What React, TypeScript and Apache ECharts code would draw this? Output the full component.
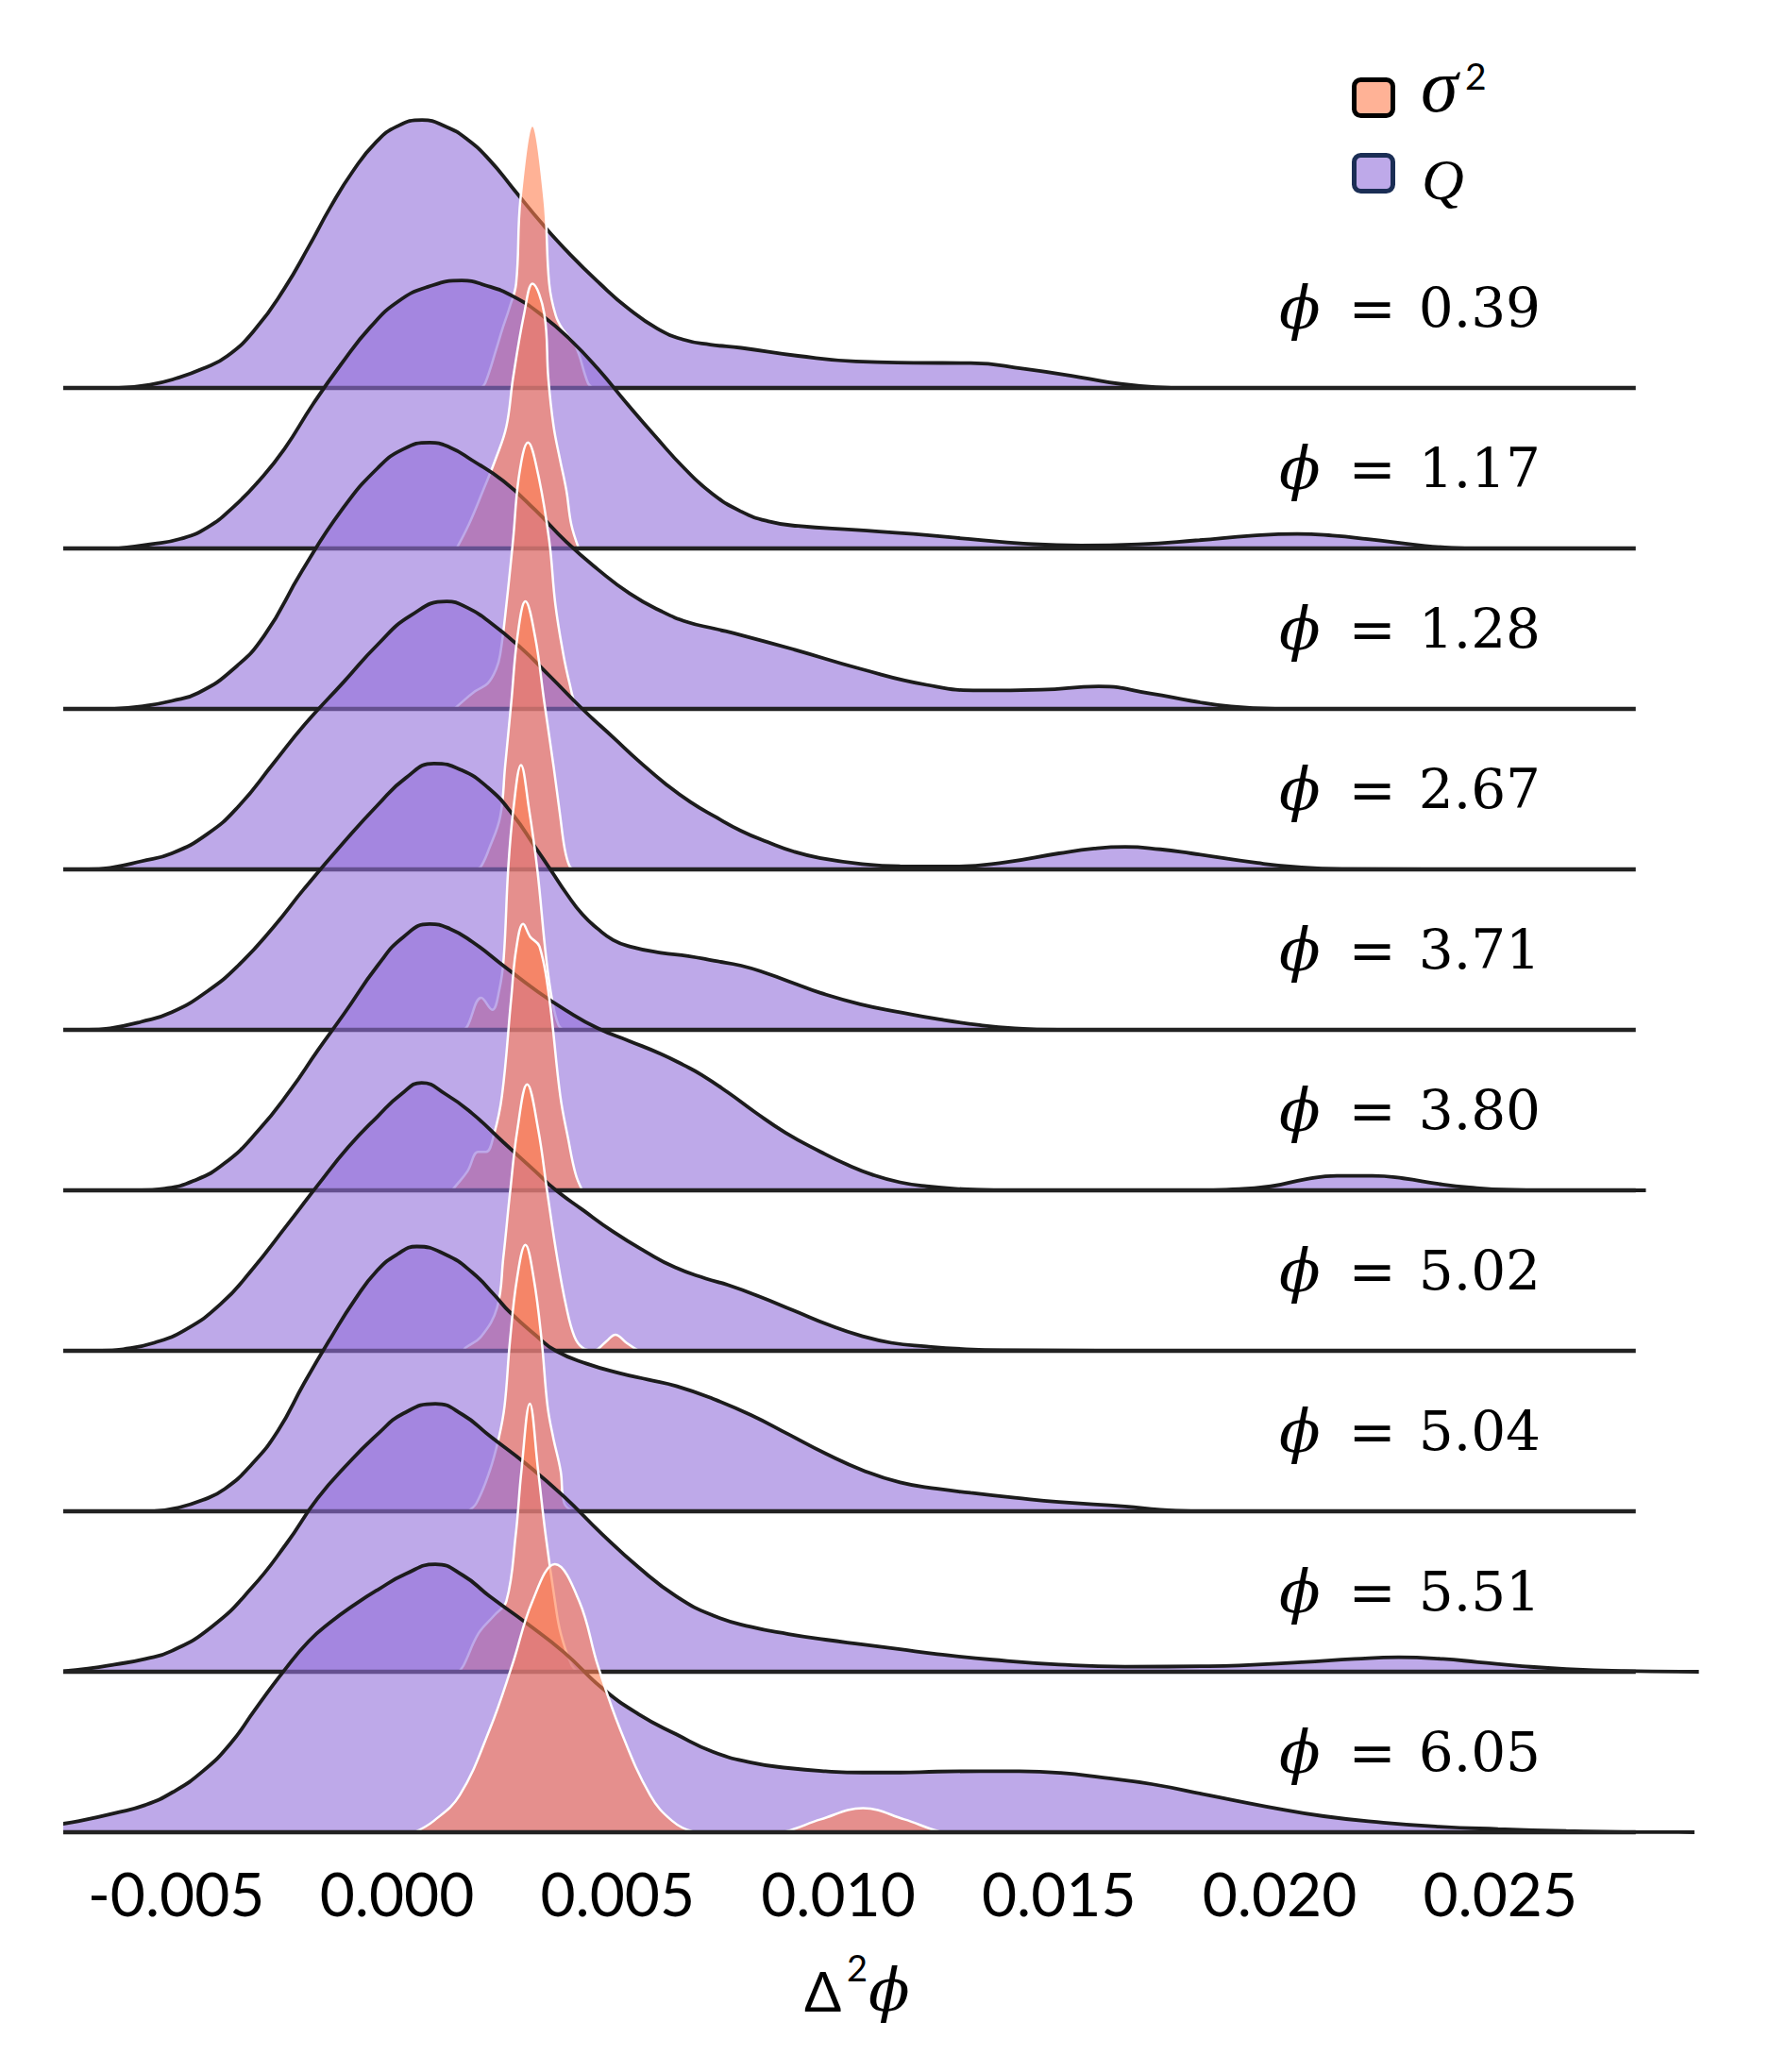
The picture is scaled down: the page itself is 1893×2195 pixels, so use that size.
import React, { useEffect, useRef } from "react";
import * as echarts from "echarts";

// ---------- data ----------
const PHI_LABELS = ["0.39", "1.17", "1.28", "2.67", "3.71", "3.80", "5.02", "5.04", "5.51", "6.05"];
const X_TICKS = [-0.005, 0, 0.005, 0.01, 0.015, 0.02, 0.025];
const AXIS_LINE_X = [-7.71, 28.07]; // extent of each ridge baseline, x in 1e-3

// Q densities: [x (1e-3), height in ridge-spacing units]
const Q_039 = [[-6.3,0],[-5.6,0.02],[-5.0,0.06],[-4.4,0.12],[-3.84,0.2],[-3.2,0.37],[-2.55,0.62],[-2.0,0.88],[-1.5,1.13],[-1.0,1.35],[-0.48,1.53],[0.0,1.63],[0.57,1.67],[1.1,1.63],[1.59,1.55],[2.1,1.42],[2.64,1.24],[3.3,1.02],[3.93,0.83],[4.6,0.65],[5.22,0.5],[5.9,0.37],[6.51,0.3],[7.1,0.27],[7.8,0.25],[9.09,0.2],[10.4,0.165],[11.7,0.157],[13.0,0.155],[14.2,0.12],[15.5,0.066],[16.4,0.025],[17.2,0.005],[17.9,0]];
const Q_117 = [[-6.3,0],[-5.6,0.025],[-4.9,0.06],[-4.3,0.13],[-3.7,0.26],[-3.1,0.43],[-2.55,0.62],[-1.9,0.9],[-1.26,1.15],[-0.6,1.38],[0.03,1.54],[0.7,1.63],[1.47,1.67],[2.0,1.64],[2.64,1.57],[3.3,1.45],[3.93,1.3],[4.55,1.12],[5.22,0.9],[5.85,0.7],[6.51,0.5],[7.15,0.34],[7.8,0.23],[8.4,0.17],[9.09,0.14],[10.4,0.115],[11.7,0.09],[13.0,0.058],[14.2,0.03],[15.5,0.018],[16.8,0.026],[18.1,0.05],[19.4,0.08],[20.4,0.09],[21.2,0.08],[22.0,0.058],[23.3,0.016],[24.2,0]];
const Q_128 = [[-6.4,0],[-5.8,0.015],[-5.1,0.05],[-4.5,0.1],[-3.7,0.25],[-3.0,0.46],[-2.15,0.86],[-1.25,1.24],[-0.44,1.5],[0.15,1.62],[0.74,1.66],[1.2,1.63],[1.7,1.55],[2.41,1.42],[3.13,1.24],[3.84,1.04],[4.55,0.87],[5.27,0.72],[5.98,0.61],[6.6,0.54],[7.2,0.5],[7.8,0.46],[9.0,0.37],[10.5,0.25],[12.0,0.15],[13.2,0.115],[14.6,0.12],[15.9,0.14],[17.1,0.095],[18.0,0.05],[18.9,0.015],[19.9,0]];
const Q_267 = [[-7.0,0],[-6.5,0.01],[-5.8,0.05],[-5.1,0.1],[-4.3,0.22],[-3.6,0.39],[-2.8,0.66],[-2.1,0.9],[-1.2,1.17],[-0.44,1.4],[0.3,1.58],[1.13,1.67],[1.6,1.63],[2.06,1.55],[2.77,1.39],[3.48,1.2],[4.2,1.0],[4.91,0.82],[5.5,0.67],[6.1,0.53],[6.65,0.42],[7.2,0.33],[7.8,0.24],[8.4,0.17],[9.0,0.11],[9.6,0.07],[10.5,0.035],[11.4,0.02],[12.6,0.018],[13.8,0.045],[15.0,0.1],[15.8,0.13],[16.5,0.14],[17.3,0.125],[18.0,0.1],[19.5,0.04],[20.5,0.012],[21.5,0.002],[23.4,0]];
const Q_371 = [[-7.0,0],[-6.5,0.01],[-5.8,0.05],[-5.1,0.11],[-4.3,0.24],[-3.6,0.4],[-2.8,0.64],[-2.1,0.88],[-1.2,1.17],[-0.44,1.4],[0.2,1.57],[0.84,1.66],[1.45,1.62],[2.06,1.51],[2.63,1.34],[3.13,1.14],[3.5,0.99],[3.84,0.85],[4.2,0.72],[4.55,0.63],[4.9,0.56],[5.27,0.52],[5.98,0.48],[6.6,0.46],[7.2,0.43],[7.8,0.4],[8.4,0.35],[9.0,0.29],[9.6,0.23],[10.5,0.16],[11.4,0.11],[12.3,0.065],[13.2,0.03],[14.0,0.01],[15.0,0]];
const Q_380 = [[-5.8,0],[-5.3,0.01],[-4.6,0.06],[-3.9,0.17],[-3.15,0.37],[-2.4,0.63],[-1.8,0.87],[-1.2,1.1],[-0.44,1.4],[0.15,1.58],[0.74,1.66],[1.2,1.63],[1.7,1.55],[2.41,1.4],[3.13,1.25],[3.84,1.12],[4.55,1.01],[5.27,0.93],[5.98,0.85],[6.5,0.78],[6.9,0.72],[7.5,0.61],[8.1,0.49],[8.8,0.36],[9.6,0.24],[10.2,0.16],[10.8,0.095],[11.4,0.05],[12.0,0.025],[12.8,0.008],[13.6,0.001],[14.2,0],[18.2,0],[18.8,0.004],[19.8,0.025],[20.6,0.07],[21.3,0.09],[22.1,0.09],[22.8,0.075],[23.6,0.04],[24.3,0.018],[25.2,0.003],[26.0,0],[28.3,0]];
const Q_502 = [[-6.7,0],[-6.2,0.01],[-5.5,0.05],[-4.8,0.13],[-4.0,0.29],[-3.3,0.5],[-2.5,0.78],[-1.8,1.03],[-1.1,1.27],[-0.44,1.46],[0.1,1.6],[0.56,1.67],[1.1,1.6],[1.7,1.48],[2.41,1.3],[3.13,1.12],[3.56,1.01],[4.2,0.88],[4.91,0.74],[5.62,0.62],[6.3,0.52],[7.0,0.45],[7.5,0.41],[8.2,0.34],[9.0,0.25],[9.8,0.16],[10.5,0.095],[11.2,0.05],[12.0,0.027],[12.9,0.01],[13.8,0.003],[15.9,0]];
const Q_504 = [[-5.5,0],[-5.0,0.02],[-4.4,0.07],[-3.9,0.14],[-3.3,0.29],[-2.7,0.5],[-2.1,0.8],[-1.5,1.08],[-0.95,1.32],[-0.45,1.5],[0.0,1.6],[0.45,1.65],[1.1,1.6],[1.7,1.49],[2.2,1.35],[2.56,1.24],[3.13,1.1],[3.6,1.0],[4.3,0.92],[5.06,0.86],[5.7,0.82],[6.33,0.78],[7.17,0.7],[8.02,0.6],[8.87,0.48],[9.71,0.36],[10.56,0.255],[11.4,0.18],[12.25,0.14],[13.0,0.115],[14.0,0.085],[15.0,0.058],[16.5,0.03],[17.3,0.01],[18.0,0]];
const Q_551 = [[-7.7,0],[-7.0,0.02],[-6.4,0.045],[-5.7,0.08],[-5.1,0.13],[-4.2,0.28],[-3.3,0.52],[-2.5,0.8],[-1.8,1.08],[-1.1,1.3],[-0.44,1.48],[0.15,1.61],[0.87,1.67],[1.5,1.6],[2.1,1.47],[2.95,1.29],[3.79,1.09],[4.64,0.86],[5.48,0.65],[6.33,0.47],[7.17,0.35],[8.02,0.28],[8.87,0.235],[9.71,0.2],[10.56,0.17],[11.4,0.14],[12.25,0.11],[13.5,0.075],[15.0,0.045],[16.5,0.032],[18.4,0.035],[20.5,0.06],[21.7,0.08],[22.7,0.09],[23.7,0.08],[24.5,0.06],[25.5,0.035],[26.5,0.017],[27.8,0.005],[29.5,0]];
const Q_605 = [[-8.3,0],[-8.0,0.03],[-7.2,0.07],[-6.38,0.12],[-5.7,0.17],[-5.08,0.25],[-4.4,0.38],[-3.78,0.55],[-3.2,0.77],[-2.55,1.01],[-2.0,1.19],[-1.5,1.31],[-0.95,1.42],[-0.44,1.51],[0.2,1.61],[0.87,1.67],[1.5,1.6],[2.1,1.47],[2.95,1.3],[3.79,1.12],[4.64,0.9],[5.48,0.735],[6.33,0.61],[7.17,0.5],[8.02,0.435],[8.87,0.4],[9.71,0.38],[10.56,0.372],[11.4,0.372],[12.25,0.378],[13.2,0.38],[14.1,0.38],[15.04,0.37],[16.0,0.34],[17.1,0.3],[18.4,0.23],[19.7,0.16],[21.0,0.1],[22.35,0.06],[23.6,0.035],[24.95,0.02],[26.5,0.008],[28.1,0.001],[29.4,0]];

// sigma^2 densities: [x (1e-3), height in ridge-spacing units]
const S_039 = [[1.9,0],[2.0,0.03],[2.27,0.26],[2.38,0.36],[2.55,0.5],[2.7,0.65],[2.8,1.18],[3.07,1.635],[3.34,1.18],[3.45,0.65],[3.6,0.45],[3.77,0.36],[4.05,0.26],[4.33,0.03],[4.45,0]];
const S_117 = [[1.35,0],[1.63,0.15],[1.95,0.36],[2.24,0.56],[2.48,0.76],[2.63,1.06],[2.88,1.46],[3.07,1.65],[3.34,1.46],[3.43,1.06],[3.55,0.76],[3.69,0.56],[3.84,0.36],[3.95,0.15],[4.12,0]];
const S_128 = [[1.3,0],[1.38,0.02],[1.77,0.11],[2.06,0.16],[2.25,0.25],[2.34,0.34],[2.48,0.65],[2.63,1.05],[2.77,1.46],[2.97,1.66],[3.2,1.46],[3.45,1.05],[3.59,0.65],[3.77,0.34],[3.91,0.16],[4.05,0.02],[4.15,0]];
const S_267 = [[1.8,0],[1.91,0.02],[2.09,0.13],[2.34,0.33],[2.45,0.64],[2.59,1.04],[2.73,1.45],[2.91,1.67],[3.13,1.45],[3.34,1.04],[3.55,0.64],[3.7,0.33],[3.8,0.13],[3.91,0.02],[4.0,0]];
const S_371 = [[1.5,0],[1.59,0.02],[1.91,0.2],[2.16,0.125],[2.32,0.25],[2.42,0.45],[2.52,1.0],[2.64,1.38],[2.81,1.65],[2.99,1.38],[3.18,1.0],[3.38,0.45],[3.52,0.18],[3.66,0.03],[3.78,0]];
const S_380 = [[1.25,0],[1.34,0.03],[1.6,0.12],[1.84,0.24],[2.02,0.24],[2.2,0.35],[2.38,0.59],[2.59,1.2],[2.7,1.5],[2.86,1.66],[3.02,1.58],[3.23,1.52],[3.45,1.2],[3.7,0.59],[3.88,0.32],[4.05,0.1],[4.2,0]];
const S_502 = [[1.5,0],[1.56,0.02],[1.91,0.09],[2.27,0.27],[2.41,0.58],[2.56,0.98],[2.73,1.38],[2.95,1.66],[3.2,1.38],[3.41,0.98],[3.63,0.58],[3.84,0.27],[4.02,0.09],[4.2,0.02],[4.45,0],[4.55,0.01],[4.75,0.06],[4.95,0.1],[5.2,0.05],[5.45,0.005],[5.55,0]];
const S_504 = [[1.6,0],[1.8,0.05],[2.1,0.25],[2.31,0.46],[2.44,0.66],[2.56,1.06],[2.72,1.45],[2.91,1.66],[3.1,1.45],[3.28,1.06],[3.41,0.66],[3.54,0.46],[3.71,0.25],[3.79,0.05],[4.0,0]];
const S_551 = [[1.4,0],[1.51,0.04],[1.85,0.24],[2.2,0.35],[2.48,0.44],[2.69,0.85],[2.82,1.25],[3.01,1.67],[3.2,1.25],[3.37,0.85],[3.58,0.44],[3.71,0.24],[3.96,0.04],[4.1,0]];
const S_605 = [[0.4,0],[0.83,0.07],[1.42,0.23],[2.1,0.64],[2.61,1.04],[3.07,1.44],[3.58,1.67],[4.13,1.44],[4.55,1.04],[5.06,0.64],[5.74,0.23],[6.24,0.07],[6.7,0.005],[6.9,0],[8.6,0],[8.8,0.005],[9.6,0.08],[10.56,0.15],[11.5,0.08],[12.3,0.005],[12.5,0]];

const Q_ROWS = [Q_039, Q_117, Q_128, Q_267, Q_371, Q_380, Q_502, Q_504, Q_551, Q_605];
const S_ROWS = [S_039, S_117, S_128, S_267, S_371, S_380, S_502, S_504, S_551, S_605];

// ---------- layout / style ----------
const W = 1893;
const H = 2195;
const PX0 = 420.5; // pixel of x = 0
const PXU = 46.75; // pixels per 1e-3
const X_MIN = -0.0075;
const X_MAX = 0.03;
const Y_MAX = 11;
const GRID_TOP = 71;
const GRID_BOTTOM = 254;
const ROW_PX = (H - GRID_TOP - GRID_BOTTOM) / Y_MAX;
const N = Q_ROWS.length;

const Q_COLOR = "#9370DB";
const S_COLOR = "#FF7F50";

function baselinePx(i: number) {
  return H - GRID_BOTTOM - (N - 1 - i) * ROW_PX;
}

export default function App() {
  const ref = useRef<HTMLDivElement>(null);

  useEffect(() => {
    if (!ref.current) return;
    const chart = echarts.init(ref.current, undefined, { renderer: "svg", width: W, height: H });

    const series: any[] = [];
    for (let i = 0; i < N; i++) {
      const off = N - 1 - i;
      series.push({
        type: "line",
        data: Q_ROWS[i].map(([x, h]) => [x * 1e-3, off + h]),
        smooth: 0.5,
        symbol: "none",
        clip: false,
        silent: true,
        z: 10 + i * 3,
        lineStyle: { color: "#1c1c1c", width: 3.8 },
        areaStyle: { color: Q_COLOR, opacity: 0.6, origin: off },
      });
      series.push({
        type: "line",
        data: S_ROWS[i].map(([x, h]) => [x * 1e-3, off + h]),
        smooth: 0.4,
        symbol: "none",
        clip: false,
        silent: true,
        z: 11 + i * 3,
        lineStyle: { color: "#ffffff", width: 2.5 },
        areaStyle: { color: S_COLOR, opacity: 0.6, origin: off },
      });
      series.push({
        type: "line",
        data: [
          [AXIS_LINE_X[0] * 1e-3, off],
          [AXIS_LINE_X[1] * 1e-3, off],
        ],
        symbol: "none",
        clip: false,
        silent: true,
        z: 12 + i * 3,
        lineStyle: { color: "#222222", width: 4.5 },
      });
    }

    const graphics: any[] = [];
    // ridge labels
    for (let i = 0; i < N; i++) {
      graphics.push({
        type: "text",
        z: 200,
        x: 1632,
        y: baselinePx(i) - 85,
        style: {
          text: `{p|ϕ}{e|=}{n|${PHI_LABELS[i]}}`,
          textAlign: "right",
          textVerticalAlign: "middle",
          fill: "#000",
          rich: {
            p: { fontFamily: "DejaVu Serif", fontStyle: "italic", fontSize: 64, fill: "#000" },
            e: { fontFamily: "DejaVu Serif", fontSize: 60, padding: [0, 24, 0, 30], fill: "#000" },
            n: { fontFamily: "DejaVu Serif", fontSize: 58, fill: "#000" },
          },
        },
      });
    }
    // legend
    graphics.push(
      {
        type: "rect",
        z: 200,
        shape: { x: 1434.5, y: 84.5, width: 41, height: 38, r: 7 },
        style: { fill: "#ffb296", stroke: "#000000", lineWidth: 5 },
      },
      {
        type: "rect",
        z: 200,
        shape: { x: 1434.5, y: 164.5, width: 41, height: 38, r: 7 },
        style: { fill: "#bea9e9", stroke: "#1b2e55", lineWidth: 5 },
      },
      {
        type: "text",
        z: 200,
        x: 1505,
        y: 91,
        style: { text: "σ", font: 'italic 80px "Liberation Serif"', fill: "#000", textVerticalAlign: "middle" },
      },
      {
        type: "text",
        z: 200,
        x: 1552,
        y: 80,
        style: { text: "2", font: '39px Lato', fill: "#000", textVerticalAlign: "middle" },
      },
      {
        type: "text",
        z: 200,
        x: 1506,
        y: 190,
        style: { text: "Q", font: 'italic 62px "Liberation Serif"', fill: "#000", textVerticalAlign: "middle" },
      },
      // x-axis title Δ²ϕ
      {
        type: "text",
        z: 200,
        x: 852,
        y: 2108,
        style: { text: "Δ", font: '58px Lato', fill: "#000", textVerticalAlign: "middle" },
      },
      {
        type: "text",
        z: 200,
        x: 897,
        y: 2084,
        style: { text: "2", font: '38px Lato', fill: "#000", textVerticalAlign: "middle" },
      },
      {
        type: "text",
        z: 200,
        x: 920,
        y: 2108,
        style: { text: "ϕ", font: 'italic 64px "DejaVu Serif"', fill: "#000", textVerticalAlign: "middle" },
      }
    );

    chart.setOption({
      animation: false,
      backgroundColor: "#ffffff",
      grid: {
        left: PX0 + X_MIN * 1e3 * PXU,
        right: W - (PX0 + X_MAX * 1e3 * PXU),
        top: GRID_TOP,
        bottom: GRID_BOTTOM,
        containLabel: false,
      },
      xAxis: {
        type: "value",
        min: X_MIN,
        max: X_MAX,
        interval: 0.0025,
        axisLine: { show: false },
        axisTick: { show: false },
        splitLine: { show: false },
        axisLabel: {
          fontFamily: "Lato",
          fontSize: 64,
          color: "#000",
          margin: 32,
          showMinLabel: true,
          showMaxLabel: true,
          formatter: (v: number) => {
            const t = X_TICKS.find((k) => Math.abs(k - v) < 1e-6);
            return t === undefined ? "" : t.toFixed(3);
          },
        },
      },
      yAxis: {
        type: "value",
        min: 0,
        max: Y_MAX,
        show: false,
      },
      series,
      graphic: graphics,
    });

    return () => {
      chart.dispose();
    };
  }, []);

  return (
    <div
      ref={ref}
      style={{ position: "absolute", left: 0, top: 0, width: W, height: H, background: "#fff" }}
    />
  );
}
